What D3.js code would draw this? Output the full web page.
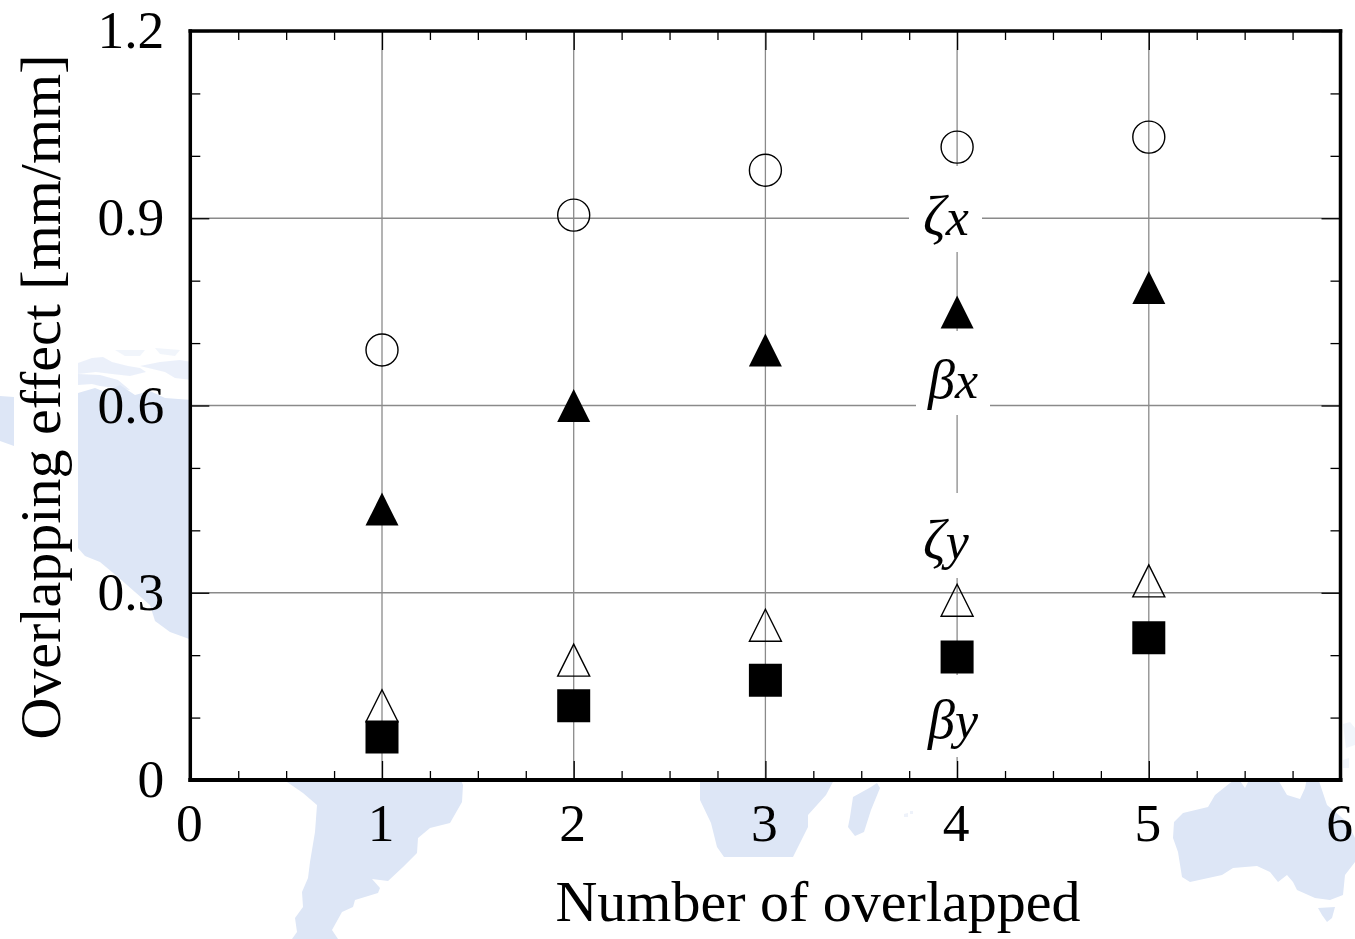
<!DOCTYPE html>
<html>
<head>
<meta charset="utf-8">
<script src="https://cdn.jsdelivr.net/npm/d3@7/dist/d3.min.js"></script>
<style>
html,body{margin:0;padding:0;background:#fff;overflow:hidden}
svg{display:block}
text{font-family:"Liberation Serif","Times New Roman",serif;fill:#000}
</style>
</head>
<body>
<svg id="c" width="1355" height="939"></svg>
<script>
// ---- data ----
const overlapped = [1, 2, 3, 4, 5];
const zetaX = [0.689, 0.905, 0.977, 1.014, 1.030];
const betaX = [0.434, 0.600, 0.689, 0.750, 0.789];
const zetaY = [0.119, 0.192, 0.248, 0.288, 0.319];
const betaY = [0.069, 0.119, 0.160, 0.197, 0.228];
const xMajor = [0, 1, 2, 3, 4, 5, 6];
const xMinor = [0.25,0.5,0.75,1.25,1.5,1.75,2.25,2.5,2.75,3.25,3.5,3.75,4.25,4.5,4.75,5.25,5.5,5.75];
const yMajor = [0, 0.3, 0.6, 0.9, 1.2];
const yMinor = [0.1,0.2,0.4,0.5,0.7,0.8,1.0,1.1];
const xGrid = [1, 2, 3, 4, 5];
const yGrid = [0.3, 0.6, 0.9];
const xTitle = "Number of overlapped";
const yTitle = "Overlapping effect [mm/mm]";

// watermark map in the page background (decoration, not data)
const mapShapes = [
 {o:1, d:"M78,393 L95,388 L105,392 L120,385 L135,395 L150,391 L165,398 L192,400 L192,640 L170,632 L155,621 L150,605 L135,592 L118,577 L100,562 L85,556 L78,548 Z"},
 {o:.6, d:"M78,363 L92,358 L103,357 L112,362 L128,366 L140,368 L146,372 L130,376 L112,374 L96,372 L78,374 Z"},
 {o:.7, d:"M78,374 L100,375 L118,380 L130,390 L100,386 L92,384 L78,385 Z"},
 {o:.6, d:"M140,366 L160,362 L180,360 L192,362 L192,380 L175,378 L165,372 Z"},
 {o:.4, d:"M115,350 L145,350 L140,356 L125,356 Z M155,348 L180,350 L175,356 L160,354 Z"},
 {o:1, d:"M0,396 L14,397 L14,446 L0,441 Z"},
 {o:1, d:"M287,782 L303,793 L317,805 L315,832 L310,862 L308,878 L302,892 L303,907 L295,918 L297,932 L292,939 L338,939 L332,930 L342,912 L353,907 L355,900 L378,893 L380,888 L372,879 L388,881 L403,867 L417,853 L418,838 L430,828 L450,823 L462,802 L463,785 L460,778 L287,778 Z"},
 {o:1, d:"M700,778 L700,800 L711,823 L717,847 L724,857 L793,857 L808,827 L808,815 L826,795 L835,778 Z"},
 {o:1, d:"M877,783 L871,787 L853,797 L850,817 L848,827 L855,836 L864,832 L871,810 L880,788 Z"},
 {o:.5, d:"M904,814 L908,813 L908,817 L904,817 Z M910,811 L913,811 L913,814 L910,814 Z"},
 {o:1, d:"M1230,783 L1238,778 L1245,788 L1250,778 L1277,778 L1287,795 L1300,799 L1305,788 L1307,778 L1318,778 L1327,805 L1347,822 L1355,838 L1355,862 L1345,875 L1343,895 L1330,900 L1315,898 L1297,890 L1293,882 L1287,875 L1278,882 L1270,872 L1257,866 L1233,868 L1222,875 L1190,882 L1182,877 L1178,852 L1173,838 L1174,822 L1183,813 L1208,807 L1215,795 Z"},
 {o:1, d:"M1318,908 L1335,907 L1332,918 L1327,922 L1322,915 Z"},
 {o:.4, d:"M1343,724 L1350,722 L1355,728 L1355,745 L1346,748 Z M1343,760 L1349,758 L1349,768 L1343,768 Z"}
];

const W = 1355, H = 939;
const pLeft = 190.3, pRight = 1340.5, pTop = 31, pBottom = 780;
const x = d3.scaleLinear().domain([0, 6]).range([pLeft, pRight]);
const y = d3.scaleLinear().domain([0, 1.2]).range([pBottom, pTop]);
const svg = d3.select("#c");

// background
svg.append("rect").attr("width", W).attr("height", H).attr("fill", "#fff");
svg.append("g").selectAll("path").data(mapShapes).join("path")
  .attr("d", d => d.d).attr("fill", "#dde6f6").attr("opacity", d => d.o);
svg.append("rect").attr("x", pLeft).attr("y", pTop).attr("width", pRight-pLeft).attr("height", pBottom-pTop).attr("fill", "#fff");

// grid
const gridColor = "#8a8a8a";
svg.append("g").selectAll("line").data(xGrid).join("line")
  .attr("x1", d => x(d)).attr("x2", d => x(d)).attr("y1", pTop).attr("y2", pBottom)
  .attr("stroke", gridColor).attr("stroke-width", 1.3);
svg.append("g").selectAll("line").data(yGrid).join("line")
  .attr("x1", pLeft).attr("x2", pRight).attr("y1", d => y(d)).attr("y2", d => y(d))
  .attr("stroke", gridColor).attr("stroke-width", 1.3);

// white boxes behind the series labels
const labels = [
  {g:"ζ", s:"x", x:923, y:235, box:[909,166,982,252]},
  {g:"β", s:"x", x:928, y:398, box:[916,331,990,415]},
  {g:"ζ", s:"y", x:923, y:559, box:[918,493,985,578]},
  {g:"β", s:"y", x:928, y:738, box:[916,675,990,757]}
];
svg.append("g").selectAll("rect").data(labels).join("rect")
  .attr("x", d => d.box[0]).attr("y", d => d.box[1])
  .attr("width", d => d.box[2]-d.box[0]).attr("height", d => d.box[3]-d.box[1])
  .attr("fill", "#fff");

// ticks through d3 axes
function styleAxis(g){ g.select(".domain").remove(); g.selectAll("line").attr("stroke","#000").attr("stroke-width",1.3); }
const tickFont = 53.5;
const yFmt = d => d === 0 ? "0" : d3.format(".1f")(d);
// major
const gxB = svg.append("g").attr("transform",`translate(0,${pBottom})`)
  .call(d3.axisBottom(x).tickValues(xMajor).tickSize(-19).tickFormat(d3.format("d")).tickPadding(0));
gxB.call(styleAxis);
gxB.selectAll("text").attr("font-size",tickFont).attr("y",null).attr("dy",null).attr("transform","translate(-1.5,60.5)");
const gyL = svg.append("g").attr("transform",`translate(${pLeft},0)`)
  .call(d3.axisLeft(y).tickValues(yMajor).tickSize(-19).tickFormat(yFmt).tickPadding(0));
gyL.call(styleAxis);
gyL.selectAll("text").attr("font-size",tickFont).attr("x",-26).attr("dy",null).attr("transform","translate(0,16.5)");
svg.append("g").attr("transform",`translate(0,${pTop})`)
  .call(d3.axisTop(x).tickValues(xMajor).tickSize(-19).tickFormat("")).call(styleAxis);
svg.append("g").attr("transform",`translate(${pRight},0)`)
  .call(d3.axisRight(y).tickValues(yMajor).tickSize(-19).tickFormat("")).call(styleAxis);
// minor
svg.append("g").attr("transform",`translate(0,${pBottom})`)
  .call(d3.axisBottom(x).tickValues(xMinor).tickSize(-9).tickFormat("")).call(styleAxis);
svg.append("g").attr("transform",`translate(0,${pTop})`)
  .call(d3.axisTop(x).tickValues(xMinor).tickSize(-9).tickFormat("")).call(styleAxis);
svg.append("g").attr("transform",`translate(${pLeft},0)`)
  .call(d3.axisLeft(y).tickValues(yMinor).tickSize(-10).tickFormat("")).call(styleAxis);
svg.append("g").attr("transform",`translate(${pRight},0)`)
  .call(d3.axisRight(y).tickValues(yMinor).tickSize(-10).tickFormat("")).call(styleAxis);

// frame
const frame = [
  [pLeft, pTop, pRight, pTop, 3.5],
  [pRight, pTop, pRight, pBottom, 3.5],
  [pLeft, pBottom, pRight, pBottom, 4],
  [pLeft, pTop, pLeft, pBottom, 3.5]
];
svg.append("g").selectAll("line").data(frame).join("line")
  .attr("x1", d => d[0]).attr("y1", d => d[1]).attr("x2", d => d[2]).attr("y2", d => d[3])
  .attr("stroke", "#000").attr("stroke-width", d => d[4]).attr("stroke-linecap","square");

// marker shapes
const triShape = { draw(c, s){ const r = Math.sqrt(s)/2; c.moveTo(0,-r); c.lineTo(r,r); c.lineTo(-r,r); c.closePath(); } };
const tri = d3.symbol().type(triShape).size(33*33)();
const tri2 = d3.symbol().type(triShape).size(32*32)();
const sq = d3.symbol().type(d3.symbolSquare).size(33*33)();
const circ = d3.symbol().type(d3.symbolCircle).size(Math.PI*16*16)();
const series = [
  {v:zetaY, d:tri2, fill:"none", stroke:"#000", sw:1.4},
  {v:betaY, d:sq, fill:"#000", stroke:"none", sw:0},
  {v:zetaX, d:circ, fill:"none", stroke:"#000", sw:1.4},
  {v:betaX, d:tri, fill:"#000", stroke:"none", sw:0}
];
series.forEach(s => {
  svg.append("g").selectAll("path").data(s.v).join("path")
    .attr("transform", (d,i) => `translate(${x(overlapped[i])},${y(d)})`)
    .attr("d", s.d).attr("fill", s.fill).attr("stroke", s.stroke).attr("stroke-width", s.sw);
});

// series labels
const lt = svg.append("g").selectAll("text").data(labels).join("text")
  .attr("x", d => d.x).attr("y", d => d.y).attr("font-size", 52).attr("font-style","italic");
lt.append("tspan").text(d => d.g).attr("font-size", d => d.g === "ζ" ? 56 : 54);
lt.append("tspan").text(d => d.s).attr("dx", 0);

// axis titles
svg.append("text").attr("x", 818).attr("y", 921).attr("text-anchor","middle")
  .attr("font-size", 58).text(xTitle);
svg.append("text").attr("transform","translate(60,397) rotate(-90)").attr("text-anchor","middle")
  .attr("font-size", 58).text(yTitle);
</script>
</body>
</html>
